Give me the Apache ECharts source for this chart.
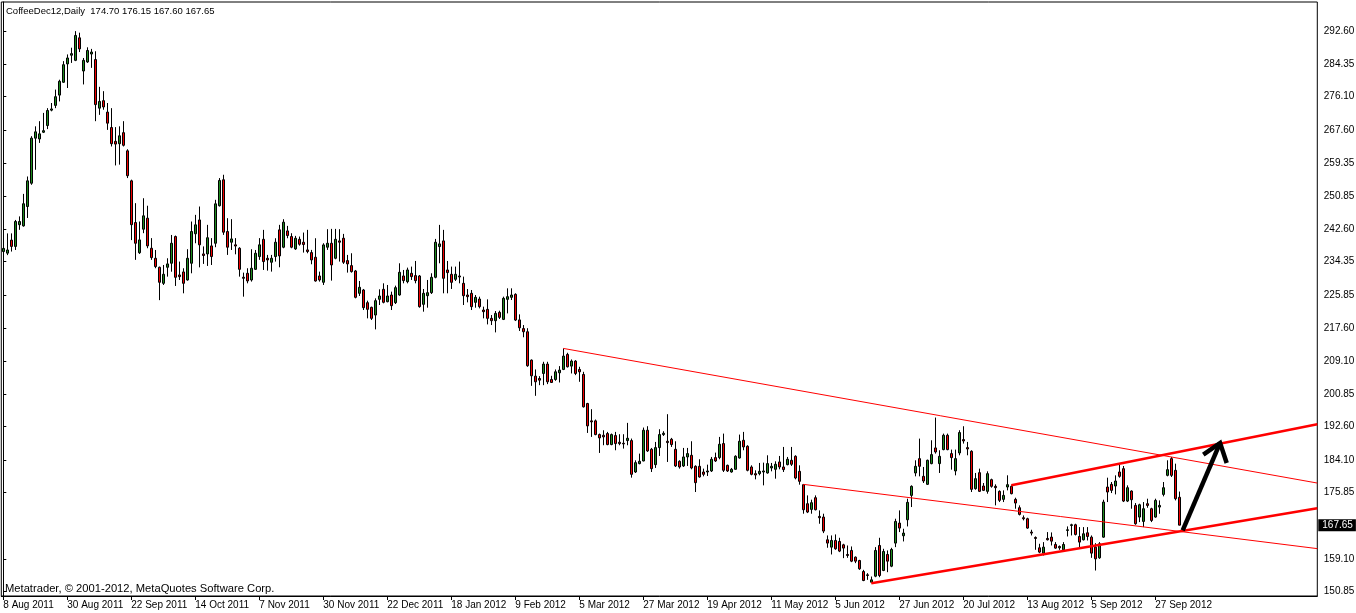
<!DOCTYPE html>
<html>
<head>
<meta charset="utf-8">
<title>CoffeeDec12, Daily</title>
<script src="https://cdn.jsdelivr.net/npm/echarts@6/dist/echarts.min.js"></script>
<style>
  html, body { margin: 0; padding: 0; background: #fff; }
  #chart { width: 1356px; height: 613px; }
</style>
</head>
<body>
<div id="chart"></div>
<script>
// ---------- DATA ----------
const symbolTitle = 'CoffeeDec12,Daily  174.70 176.15 167.60 167.65';
const copyrightText = 'Metatrader, \u00A9 2001-2012, MetaQuotes Software Corp.';

const startDate = '2011-08-08';
const holidays = ['2011-09-05','2011-11-24','2011-12-26','2012-01-02','2012-01-16',
                  '2012-02-20','2012-04-06','2012-05-28','2012-07-04','2012-09-03'];

const xTickLabels = ['8 Aug 2011','30 Aug 2011','22 Sep 2011','14 Oct 2011','7 Nov 2011',
  '30 Nov 2011','22 Dec 2011','18 Jan 2012','9 Feb 2012','5 Mar 2012','27 Mar 2012',
  '19 Apr 2012','11 May 2012','5 Jun 2012','27 Jun 2012','20 Jul 2012','13 Aug 2012',
  '5 Sep 2012','27 Sep 2012'];

const yTickLabels = [292.60, 284.35, 276.10, 267.60, 259.35, 250.85, 242.60, 234.35, 225.85,
  217.60, 209.10, 200.85, 192.60, 184.10, 175.85, 159.10, 150.85];
const lastPrice = 167.65;

const opens = [
236.9,236.5,239.8,238.2,243.7,243.4,248.3,254.2,265.6,265.4,
267.1,268.8,272.7,273.9,276.5,279.75,284.4,286.6,285.3,291.0,
282.6,284.9,286.9,285.5,273.2,275.1,272.2,268.3,264.8,264.2,
267.0,262.4,254.8,244.25,236.6,242.56,245.35,237.74,235.2,232.92,
228.86,232.92,233.94,240.7,230.98,231.74,229.71,233.94,241.4,244.9,
236.3,236.3,238.33,239.0,248.5,255.07,241.97,239.26,238.6,237.74,
230.4,231.4,229.71,232.4,235.63,240.0,235.2,234.19,235.63,242.39,
237.99,242.13,240.7,237.57,240.0,239.26,237.32,236.64,235.46,230.72,
229.12,238.0,239.0,235.2,239.6,240.27,234.61,233.34,231.99,226.33,
227.17,223.96,222.78,220.83,224.81,227.34,224.21,225.9,223.96,225.9,
230.72,229.28,231.4,230.81,230.72,223.54,225.73,226.49,230.38,238.16,
239.6,232.24,231.14,229.88,230.72,228.86,225.9,226.33,224.04,224.89,
222.1,222.27,219.99,219.4,221.51,219.73,224.8,225.31,226.07,219.6,
217.4,216.6,209.42,205.36,204.77,206.04,208.41,204.52,204.52,206.21,
207.06,210.86,207.9,209.17,207.06,205.79,198.43,194.04,194.04,190.57,
190.4,190.83,188.04,190.32,188.63,188.37,189.05,189.05,181.1,183.22,
183.89,191.67,186.85,182.96,187.27,190.57,188.88,189.39,186.85,183.81,
182.63,184.91,185.33,182.54,182.54,181.1,181.1,181.36,184.74,184.74,
188.29,182.79,181.1,181.78,184.65,189.13,187.61,182.37,180.68,180.68,
181.1,180.85,182.12,181.78,183.64,182.37,182.96,184.06,185.08,181.27,
177.89,173.07,171.63,174.59,169.86,169.69,163.94,162.08,163.77,163.52,
162.67,160.22,161.24,159.55,158.7,155.91,155.07,153.21,154.73,162.5,
156.17,160.22,157.26,163.1,168.17,164.96,169.01,175.18,180.85,184.48,
180.0,177.97,183.22,187.19,183.22,186.77,190.4,185.75,181.36,185.92,
189.3,187.27,186.34,176.88,180.93,177.55,176.2,179.16,177.47,176.2,
174.17,177.3,177.47,174.17,172.06,169.52,169.27,165.89,164.53,161.91,
160.56,164.28,164.62,162.76,162.25,161.4,166.31,167.57,167.74,164.78,
163.94,165.71,164.61,162.08,159.37,164.61,177.29,177.97,177.55,181.1,
181.94,173.74,176.28,172.64,169.69,168.59,173.07,171.8,169.69,172.22,
175.43,180.25,184.48,181.52,174.70
];

const highs = [
240.5,241.5,241.5,244.9,245.8,251.5,255.9,266.1,268.6,269.9,
272.0,273.2,274.5,277.9,280.4,285.1,286.8,288.5,292.7,292.3,
285.9,288.6,288.2,287.6,278.6,277.5,274.5,273.2,268.4,268.6,
269.9,262.8,255.1,249.15,244.5,250.4,248.5,240.3,237.3,233.09,
233.5,235.2,241.1,240.95,234.36,232.67,237.49,244.5,246.19,248.3,
238.2,243.66,240.3,250.0,255.5,256.34,245.35,245.1,240.3,238.0,
231.57,232.67,237.49,237.3,240.3,242.39,236.05,236.05,240.27,243.66,
245.09,243.4,241.54,240.87,240.7,241.71,242.39,237.32,240.27,231.82,
239.0,242.56,242.64,242.64,242.56,241.37,236.05,236.47,232.24,229.45,
227.43,224.47,222.95,225.06,227.34,228.86,228.44,226.75,228.27,233.93,
232.24,232.83,233.09,234.52,230.97,227.42,229.71,231.4,240.1,243.65,
242.39,234.52,233.09,233.09,234.36,230.55,227.42,227.17,225.9,225.48,
222.95,224.8,220.83,221.85,221.93,225.48,227.59,227.59,226.33,221.0,
218.3,217.5,209.59,207.06,205.36,209.0,209.0,205.45,207.06,207.9,
212.38,211.28,209.59,209.42,207.73,206.46,198.6,197.0,194.38,190.83,
191.67,191.25,190.83,191.25,190.66,190.66,193.53,189.56,184.06,185.75,
192.35,192.69,187.19,188.71,191.92,191.42,195.73,189.73,188.88,184.06,
187.19,187.19,188.88,182.79,184.32,181.95,182.96,184.91,186.01,189.98,
190.82,182.96,182.12,185.33,190.57,191.25,187.87,182.79,181.53,183.39,
183.47,185.33,183.39,183.81,185.16,187.44,184.91,187.44,185.33,182.79,
177.97,175.18,174.09,175.18,171.38,170.54,165.04,165.04,165.3,164.45,
162.93,162.5,162.25,159.72,158.87,156.33,155.49,154.64,162.08,164.45,
161.66,161.24,161.91,169.27,171.38,166.73,174.34,177.72,184.06,189.55,
182.37,184.23,189.13,194.88,186.6,190.82,190.82,186.77,186.77,191.67,
192.68,188.71,186.6,180.85,181.95,178.31,181.27,179.41,177.97,176.45,
176.45,180.26,177.72,174.59,172.65,170.11,169.52,166.48,164.79,162.93,
163.35,165.89,165.8,163.35,162.5,163.35,167.32,168.0,168.0,167.15,
167.15,167.15,165.04,163.09,163.35,174.08,179.66,178.56,180.25,183.21,
182.62,177.72,176.45,173.24,173.07,173.49,174.34,172.05,174.34,173.91,
178.56,184.06,184.9,183.21,176.15
];

const lows = [
234.9,236.0,236.9,237.3,242.4,243.2,245.4,253.8,257.6,264.4,
266.9,267.9,272.4,273.2,274.9,279.6,278.3,284.65,285.1,287.4,
279.2,284.65,283.4,269.9,271.5,272.8,267.7,263.5,258.7,258.9,
263.5,255.5,239.8,234.8,236.3,241.55,237.74,234.8,232.67,224.6,
228.44,230.55,231.8,228.19,229.71,226.33,229.54,231.4,239.0,232.9,
233.77,233.26,233.5,238.0,248.3,241.12,236.05,237.3,236.2,230.55,
225.48,228.86,229.3,232.25,234.8,232.24,232.07,231.82,234.36,232.92,
237.74,240.27,237.74,237.32,238.4,236.64,236.47,233.68,229.29,229.29,
228.44,237.32,229.54,234.95,234.36,233.77,231.57,231.57,225.06,225.65,
222.1,219.99,219.57,217.2,223.37,223.79,224.05,222.1,223.62,225.73,
228.86,228.86,229.71,228.86,222.69,221.68,222.69,226.16,230.13,233.93,
226.33,226.33,227.43,229.45,228.86,223.37,224.04,222.1,222.69,222.52,
219.99,218.46,218.3,216.44,219.82,219.56,221.25,224.63,219.31,216.8,
215.2,207.73,202.91,200.38,203.08,203.08,203.34,203.67,204.18,203.76,
206.89,207.56,206.04,205.62,203.93,197.42,190.99,189.98,190.4,185.92,
187.87,187.87,187.87,186.6,187.87,187.02,187.87,179.67,180.85,183.05,
183.81,186.18,181.1,182.12,185.16,190.23,183.64,187.44,182.37,181.95,
182.37,182.63,181.78,176.03,179.67,180.0,180.09,181.1,183.64,184.32,
181.1,181.1,180.93,181.7,184.49,186.6,181.27,180.26,179.24,180.26,
177.72,180.68,181.27,179.41,181.78,181.1,182.79,182.63,179.24,177.89,
170.54,170.7,170.54,171.38,168.0,165.63,161.92,160.22,161.41,160.82,
159.29,159.38,158.28,158.03,156.33,153.46,153.8,152.95,154.47,154.47,
156.0,155.74,157.01,162.08,165.89,163.52,167.32,172.23,180.0,180.0,
178.31,177.81,183.05,185.75,180.85,186.6,186.6,181.69,180.26,185.33,
188.29,185.33,176.03,176.62,176.03,176.28,175.61,177.13,172.65,173.49,
173.49,176.45,175.44,171.8,170.11,168.85,166.73,165.04,161.41,160.56,
159.97,163.77,162.5,161.66,161.4,161.06,164.78,165.04,165.04,161.66,
163.77,163.77,159.37,156.16,159.12,164.45,173.49,175.77,175.43,179.66,
173.49,173.49,171.8,167.74,168.42,167.15,172.05,168.42,169.52,170.53,
174.93,180.0,179.83,173.91,167.60
];

const closes = [
237.7,237.3,238.2,244.5,244.5,249.0,254.8,265.6,267.2,266.7,
267.5,272.6,273.0,276.1,280.0,284.2,285.9,287.0,291.6,288.2,
285.3,287.8,287.4,274.1,274.9,273.5,269.4,264.2,264.1,266.2,
263.8,256.1,243.7,239.0,239.85,245.94,238.33,235.37,233.09,229.12,
231.15,233.77,239.0,230.38,230.55,228.86,235.2,241.97,243.66,238.6,
235.9,240.4,235.63,248.98,254.9,241.8,238.0,240.1,238.3,232.4,
230.13,229.46,232.67,236.47,238.6,234.36,234.78,235.2,239.26,235.8,
244.33,240.95,238.0,240.27,238.75,238.67,236.9,234.78,229.45,229.71,
238.58,239.0,233.51,240.0,239.26,234.19,233.77,231.82,225.31,227.85,
222.69,222.27,219.99,224.47,225.65,224.05,225.65,223.2,227.76,231.65,
229.54,232.24,230.55,229.54,222.95,226.33,226.49,230.38,239.26,238.84,
230.13,231.57,229.11,231.14,230.47,225.73,225.48,222.95,225.31,222.95,
221.68,219.99,219.4,221.25,220.24,225.06,225.48,225.9,219.56,217.6,
216.6,207.99,205.45,203.93,204.35,208.41,203.93,203.76,206.46,206.89,
210.44,207.73,209.17,206.04,206.46,197.59,192.77,193.78,190.57,189.73,
189.98,188.04,190.57,188.29,188.29,188.2,189.64,180.51,183.47,183.81,
191.67,186.43,181.95,187.27,190.57,190.91,188.54,188.04,182.63,182.37,
184.91,185.75,182.12,178.4,179.84,180.51,181.36,184.32,183.89,188.12,
181.53,181.36,181.78,185.08,188.88,187.44,181.53,180.51,180.34,181.27,
181.36,183.22,182.54,183.05,182.37,181.7,184.32,183.05,179.58,178.74,
171.55,170.96,173.33,171.55,169.52,166.14,163.1,163.77,161.66,161.07,
161.83,159.97,158.53,158.53,156.59,153.63,154.9,153.8,161.24,154.9,
160.98,158.53,161.49,168.59,166.9,165.63,173.41,177.47,182.54,182.54,
178.82,184.06,185.5,186.17,185.07,190.4,186.77,184.74,184.48,191.08,
188.96,186.93,176.71,179.41,176.2,176.45,180.68,177.47,177.13,173.92,
175.18,177.89,175.61,173.24,170.37,169.27,166.9,165.63,164.28,160.82,
162.08,163.94,163.6,161.83,161.91,162.75,166.47,167.74,165.29,163.35,
165.46,164.78,160.56,159.12,162.92,173.49,176.03,176.45,178.82,180.0,
173.74,177.12,174.08,168.0,172.81,171.8,172.64,168.84,173.91,172.64,
177.12,181.69,180.25,174.34,167.65
];

// Trend lines drawn on the chart: [barIndex, price] end points
const upperFanLine  = [[140, 212.38], [328.5, 178.3]];
const lowerFanLine  = [[200, 177.97], [328.5, 161.7]];
const channelLow    = [[217, 152.95], [328.5, 171.9]];
const channelHigh   = [[252, 177.72], [328.5, 193.2]];
const arrowShaft    = [[294.85, 166.31], [304.2, 188.45]];
const arrowHead     = [[300.0, 185.5], [304.2, 188.45], [305.85, 183.38]];

// ---------- BUILD ----------
const SLOTS = 329;                 // bars + empty chart shift on the right
const MON = ['Jan','Feb','Mar','Apr','May','Jun','Jul','Aug','Sep','Oct','Nov','Dec'];
function tradingDays(n) {
  const out = [];
  const d = new Date(startDate + 'T12:00:00Z');
  while (out.length < n) {
    const dow = d.getUTCDay();
    const iso = d.toISOString().slice(0, 10);
    if (dow !== 0 && dow !== 6 && holidays.indexOf(iso) < 0) {
      out.push(d.getUTCDate() + ' ' + MON[d.getUTCMonth()] + ' ' + d.getUTCFullYear());
    }
    d.setUTCDate(d.getUTCDate() + 1);
  }
  return out;
}
const categories = tradingDays(SLOTS);
const candleData = opens.map((o, i) => [o, closes[i], lows[i], highs[i]]);
const lastLabeled = (xTickLabels.length - 1) * 16;
const showTick = (idx) => idx % 16 === 0 && idx <= lastLabeled;

const FONT = "'Liberation Sans', Arial, sans-serif";
const Y_MIN = 149.71, Y_MAX = 300.07;

const chart = echarts.init(document.getElementById('chart'), null, { renderer: 'canvas' });

function lineSeries(data, color, width, z) {
  return {
    type: 'line', xAxisIndex: 1, yAxisIndex: 0, data: data,
    symbol: 'none', silent: true, animation: false, z: z,
    lineStyle: { color: color, width: width, cap: 'butt', join: 'miter' }
  };
}

chart.setOption({
  animation: false,
  backgroundColor: '#ffffff',
  title: [
    { text: symbolTitle, left: 6, top: 6, padding: 0,
      textStyle: { fontSize: 9.5, fontWeight: 'normal', color: '#000', fontFamily: FONT } },
    { text: copyrightText, left: 5, top: 583, padding: 0,
      textStyle: { fontSize: 11.2, fontWeight: 'normal', color: '#000', fontFamily: FONT } }
  ],
  grid: { left: 1.3, right: 38.7, top: 2, bottom: 17, show: true,
          outerBoundsMode: 'none', containLabel: false,
          borderColor: '#000', borderWidth: 1, backgroundColor: '#fff' },
  xAxis: [
    { type: 'category', data: categories, boundaryGap: true,
      axisLine: { lineStyle: { color: '#000', width: 1 } },
      axisTick: { show: true, interval: showTick, alignWithLabel: true, length: 4,
                  lineStyle: { color: '#000' } },
      axisLabel: { interval: showTick, align: 'left', margin: 4, fontSize: 10, color: '#000',
                   fontFamily: FONT,
                   formatter: (v, idx) => (idx % 16 === 0 && xTickLabels[idx / 16]) ? xTickLabels[idx / 16] : '' },
      splitLine: { show: false } },
    { type: 'value', min: -0.5, max: SLOTS - 0.5, show: false }
  ],
  yAxis: [
    { type: 'value', position: 'right', min: Y_MIN, max: Y_MAX,
      axisLine: { show: true, lineStyle: { color: '#000', width: 1 } },
      axisTick: { show: true, length: 3, customValues: yTickLabels, lineStyle: { color: '#000' } },
      axisLabel: { customValues: yTickLabels, formatter: (v) => v.toFixed(2), margin: 6.5,
                   fontSize: 10, color: '#000', fontFamily: FONT },
      splitLine: { show: false } },
    { type: 'value', position: 'right', min: Y_MIN, max: Y_MAX,
      axisLine: { show: false }, axisTick: { show: false }, splitLine: { show: false },
      axisLabel: { customValues: [lastPrice], formatter: (v) => v.toFixed(2), margin: 1,
                   fontSize: 10, color: '#fff', backgroundColor: '#000', padding: [1, 3, 0, 4],
                   lineHeight: 11, fontFamily: FONT } }
  ],
  series: [
    { type: 'candlestick', data: candleData, barWidth: 2.6, animation: false, z: 2,
      itemStyle: { color: '#1d8a1d', color0: '#f00000', borderColor: '#000', borderColor0: '#000',
                   borderWidth: 1 } },
    lineSeries(upperFanLine, '#ff0000', 1, 5),
    lineSeries(lowerFanLine, '#ff0000', 1, 5),
    lineSeries(channelLow, '#ff0000', 2.6, 6),
    lineSeries(channelHigh, '#ff0000', 2.6, 6),
    lineSeries(arrowShaft, '#000000', 4.5, 7),
    lineSeries(arrowHead, '#000000', 4.5, 7)
  ]
});
</script>
</body>
</html>
